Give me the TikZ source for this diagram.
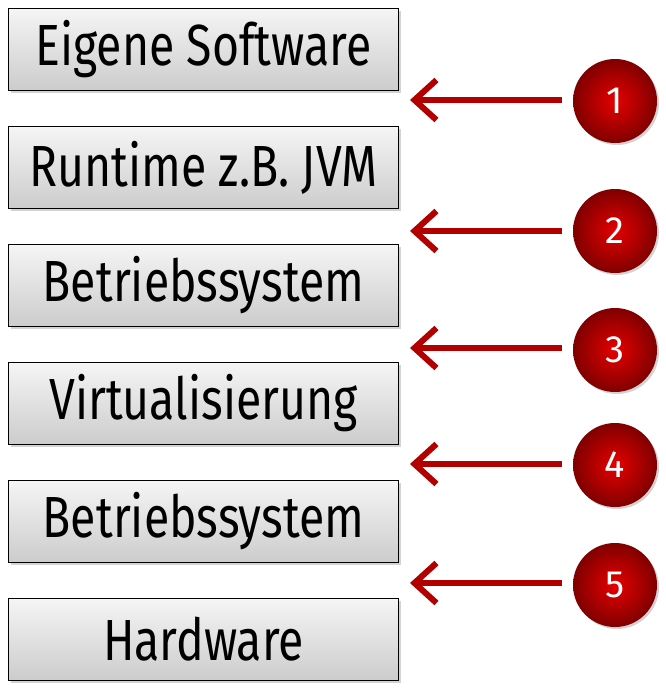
\documentclass[tikz,border=0pt]{standalone}
\usepackage{fontspec}
\setmainfont{Fira Sans}
\usetikzlibrary{arrows.meta,shadows}
\begin{document}
\begin{tikzpicture}[x=1pt,y=-1pt,
  layer/.style={draw=black,line width=1pt,minimum width=390pt,minimum height=82pt,
    top color=gray!8,bottom color=gray!40,anchor=north west,inner sep=0pt,
    drop shadow={opacity=0.35,shadow xshift=2pt,shadow yshift=-2pt},
    font=\fontsize{58}{64}\selectfont},
  num/.style={circle,minimum size=84pt,inner color=red!90!black,outer color=red!50!black,
    text=white,font=\fontsize{38}{44}\selectfont,
    drop shadow={opacity=0.35,shadow xshift=2pt,shadow yshift=-2pt}},
  arr/.style={-{Straight Barb[length=22pt,width=40pt,line width=6pt]},line width=6pt,color=red!70!black}]
\useasboundingbox (0,0) rectangle (665,696);
\node[layer] (b1) at (8,8) {\scalebox{0.8}[1]{Eigene Software}};
\node[layer] (b2) at (8,126) {\scalebox{0.8}[1]{Runtime z.B. JVM}};
\node[layer] (b3) at (8,244) {\scalebox{0.8}[1]{Betriebssystem}};
\node[layer] (b4) at (8,362) {\scalebox{0.8}[1]{Virtualisierung}};
\node[layer] (b5) at (8,480) {\scalebox{0.8}[1]{Betriebssystem}};
\node[layer] (b6) at (8,598) {\scalebox{0.8}[1]{Hardware}};
\foreach \i/\y/\ay in {1/101/100,2/231/231,3/350/348,4/465/464,5/585/583}{
  \node[num] (c\i) at (615,\y) {\i};
  \coordinate (t\i) at (410,\ay);
  \coordinate (s\i) at (562,\ay);
  \draw[arr] (s\i) -- (t\i);
}
\end{tikzpicture}
\end{document}
